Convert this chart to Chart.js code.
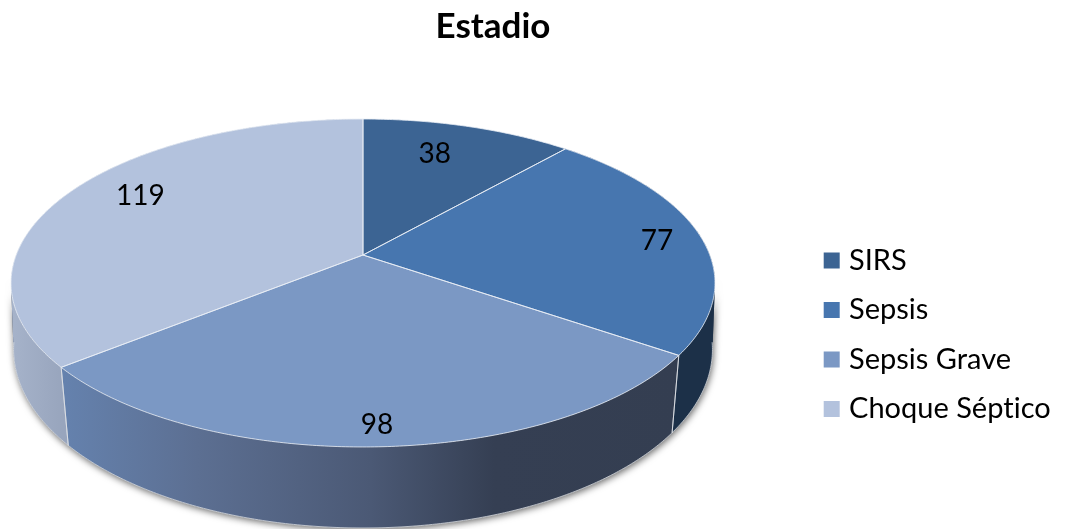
<!DOCTYPE html>
<html><head><meta charset="utf-8">
<style>html,body{margin:0;padding:0;background:#fff}canvas{display:block}</style>
<script src="https://cdn.jsdelivr.net/npm/chart.js@4"></script>
</head><body><canvas id="c" width="1066" height="529"></canvas>
<script>
const titleText = "Estadio";
const categories = ["SIRS", "Sepsis", "Sepsis Grave", "Choque Séptico"];
const values = [38, 77, 98, 119];
const faceColors = ["#3C6493", "#4776AF", "#7B98C4", "#B3C2DD"];
const sideStops = [
  [[0, "#2A4565"], [1, "#2A4565"]],
  [[0, "#1C3048"], [1, "#1C3048"]],
  [[0, "#6582AE"], [0.22, "#5C6F92"], [0.5, "#4B5975"], [0.7, "#353F53"], [1, "#343E51"]],
  [[0, "#A6B3CA"], [1, "#98A5BD"]]
];
/* label placement: radial fraction on the disc and vertical nudge */
const labelRadial = [0.65, 0.87, 0.90, 0.75];
const labelNudge = [-13, 3, 1, -10];

/* perspective model of the disc */
const proj = {cx: 363, cy: 255, R: 346.8, S: 159.2, k: 0.1707, botR: 346, botCy: 324.5, botS: 175, botK: 0.14};
function topPt(a, f = 1) {
  const u = Math.cos(a) * f, v = Math.sin(a) * f, w = 1 - proj.k * v;
  return [proj.cx + proj.R * u / w, proj.cy + proj.S * v / w];
}
function botPt(a) {
  const u = Math.cos(a), v = Math.sin(a), w = 1 - proj.botK * v;
  return [proj.cx + proj.botR * u / w, proj.botCy + proj.botS * v / w];
}
function sidePath(ctx, a0, a1) {
  const n = Math.max(2, Math.ceil((a1 - a0) / 0.01));
  ctx.beginPath();
  for (let i = 0; i < n; i++) {
    const p = a0 + (a1 - a0) * i / n, q = a0 + (a1 - a0) * (i + 1) / n;
    let pts = [topPt(p), topPt(q), botPt(q), botPt(p)];
    let area = 0;
    pts.forEach((P, j) => { const Q = pts[(j + 1) % 4]; area += P[0] * Q[1] - Q[0] * P[1]; });
    if (area < 0) pts = pts.reverse();
    ctx.moveTo(pts[0][0], pts[0][1]);
    for (let j = 1; j < 4; j++) ctx.lineTo(pts[j][0], pts[j][1]);
    ctx.closePath();
  }
}
function curve(ctx, fn, a0, a1, move) {
  const n = Math.max(2, Math.ceil((a1 - a0) / 0.01));
  for (let i = 0; i <= n; i++) {
    const P = fn(a0 + (a1 - a0) * i / n);
    if (i === 0 && move) ctx.moveTo(P[0], P[1]); else ctx.lineTo(P[0], P[1]);
  }
}
const disc3d = {
  id: "disc3d",
  beforeDraw(chart) { chart.ctx.letterSpacing = "0.01px"; },
  afterLayout(chart) {
    const lg = chart.legend;
    lg.left = 808.4; lg.top = 225.5;
    const t = chart.titleBlock;
    t.left = 0; t.right = 986;
  },
  beforeDatasetsDraw(chart) {
    const ctx = chart.ctx, arcs = chart.getDatasetMeta(0).data;
    ctx.save();
    /* soft shadow under the rim */
    ctx.save();
    ctx.shadowColor = "rgba(0,0,0,0.6)"; ctx.shadowBlur = 7; ctx.shadowOffsetX = 1; ctx.shadowOffsetY = 2;
    ctx.fillStyle = "#333E50";
    sidePath(ctx, 0.15, Math.PI - 0.15); ctx.fill();
    ctx.restore();
    /* rim */
    arcs.forEach((arc, i) => {
      const xs = [];
      for (let t = 0; t <= 40; t++) {
        const a = arc.startAngle + (arc.endAngle - arc.startAngle) * t / 40;
        if (Math.sin(a) > -0.2) xs.push(topPt(a)[0]);
      }
      if (!xs.length) return;
      const g = ctx.createLinearGradient(Math.min(...xs), 0, Math.max(...xs) + 1, 0);
      sideStops[i].forEach(s => g.addColorStop(s[0], s[1]));
      ctx.fillStyle = g;
      sidePath(ctx, arc.startAngle, arc.endAngle); ctx.fill();
    });
    ctx.strokeStyle = "rgba(225,228,232,0.75)"; ctx.lineWidth = 1;
    ctx.beginPath(); curve(ctx, botPt, 0.1, Math.PI - 0.1, true); ctx.stroke();
    arcs.forEach(arc => {
      [arc.startAngle, arc.endAngle].forEach(a => {
        if (Math.sin(a) > 0.1) {
          const A = topPt(a), B = botPt(a);
          ctx.beginPath(); ctx.moveTo(A[0], A[1]); ctx.lineTo(B[0], B[1]); ctx.stroke();
        }
      });
    });
    /* faces */
    arcs.forEach((arc, i) => {
      ctx.beginPath(); ctx.moveTo(proj.cx, proj.cy);
      curve(ctx, topPt, arc.startAngle, arc.endAngle, false);
      ctx.closePath();
      ctx.fillStyle = faceColors[i]; ctx.fill();
    });
    arcs.forEach(arc => {
      ctx.beginPath(); ctx.moveTo(proj.cx, proj.cy);
      curve(ctx, topPt, arc.startAngle, arc.endAngle, false);
      ctx.closePath();
      ctx.strokeStyle = "rgba(232,237,245,0.8)"; ctx.lineWidth = 1; ctx.stroke();
    });
    /* value labels */
    ctx.fillStyle = "#000"; ctx.font = "28px Lato"; ctx.textAlign = "center"; ctx.textBaseline = "middle";
    arcs.forEach((arc, i) => {
      const P = topPt((arc.startAngle + arc.endAngle) / 2, labelRadial[i]);
      ctx.fillText(String(values[i]), P[0], P[1] + labelNudge[i]);
    });
    ctx.restore();
    return false;
  }
};
new Chart(document.getElementById("c"), {
  type: "pie",
  plugins: [disc3d],
  data: {labels: categories, datasets: [{data: values, backgroundColor: faceColors, borderWidth: 0}]},
  options: {
    responsive: false, devicePixelRatio: 1, animation: false,
    plugins: {
      tooltip: {enabled: false},
      title: {display: true, text: titleText, color: "#000", font: {family: "Lato", size: 35, weight: "bold"}, padding: {top: 6, bottom: 8}},
      legend: {
        position: "right", align: "start",
        labels: {
          color: "#000", font: {family: "Lato", size: 29}, boxWidth: 5.6, boxHeight: 5.6, padding: 20.5,
          generateLabels(chart) {
            return Chart.overrides.pie.plugins.legend.labels.generateLabels(chart).map(it =>
              Object.assign(it, {strokeStyle: it.fillStyle, lineWidth: 10.4, fontColor: "#000"}));
          }
        }
      }
    }
  }
});
</script></body></html>
